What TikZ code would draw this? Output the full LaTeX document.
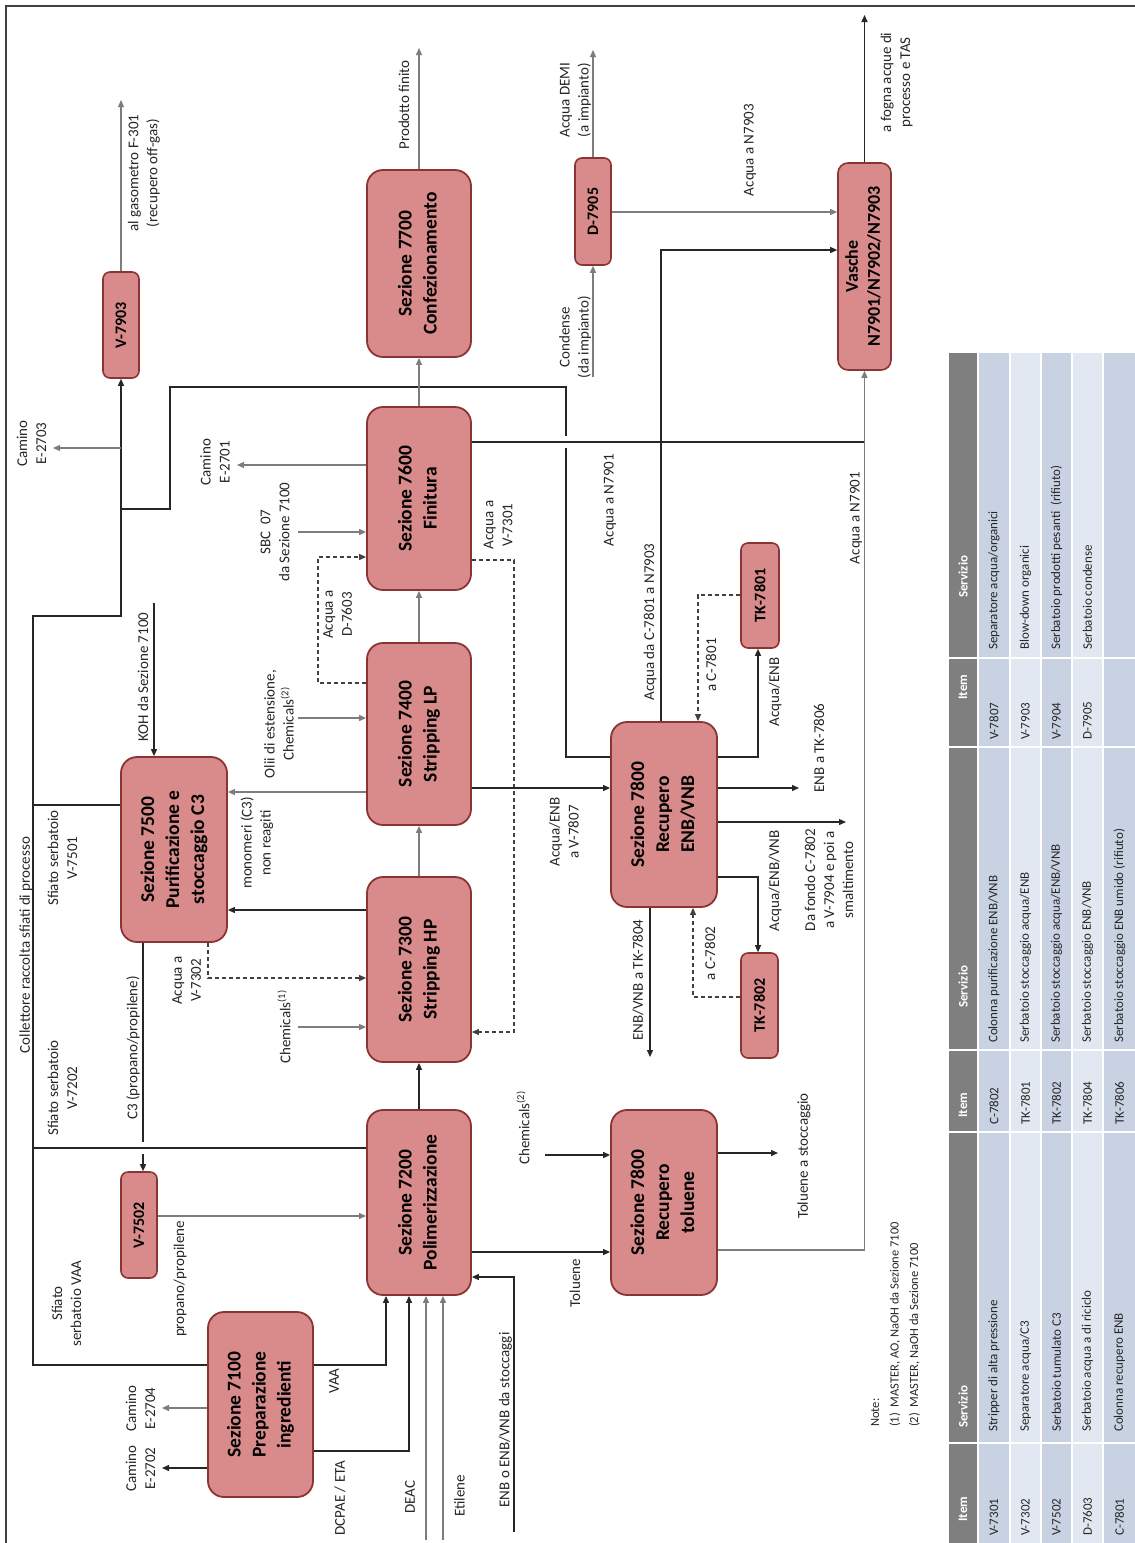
\documentclass[tikz,border=0pt]{standalone}
\usepackage{fontspec}
\setmainfont{Carlito}
\usetikzlibrary{arrows.meta}
\definecolor{boxfill}{RGB}{217,138,138}
\definecolor{boxline}{RGB}{140,52,52}
\definecolor{gline}{RGB}{125,125,125}
\definecolor{hdr}{RGB}{127,127,127}
\definecolor{rowa}{RGB}{200,210,226}
\definecolor{rowb}{RGB}{226,232,241}
\newcommand{\boxtxt}[1]{\rotatebox{90}{\bfseries\fontsize{19.5}{25}\selectfont\begin{tabular}{@{}c@{}}#1\end{tabular}}}
\newcommand{\tagtxt}[1]{\rotatebox{90}{\bfseries\fontsize{16}{19}\selectfont #1}}
\begin{document}
\begin{tikzpicture}[x=1pt,y=-1pt,
  pbox/.style={draw=boxline, fill=boxfill, line width=1.8pt, rounded corners=16pt, inner sep=0pt},
  sbox/.style={draw=boxline, fill=boxfill, line width=1.6pt, rounded corners=7pt, inner sep=0pt},
  blk/.style={line width=1.3pt, draw=black!85},
  gry/.style={line width=1.2pt, draw=gline},
  arr/.style={-{Triangle[length=7pt,width=6pt]}},
  dsh/.style={line width=1.1pt, draw=black!75, dash pattern=on 4pt off 3pt},
  lab/.style={rotate=90, align=center, inner sep=0pt, font=\fontsize{15}{19}\selectfont, text=black!85},
  tabt/.style={rotate=90, anchor=west, inner sep=0pt, font=\fontsize{13}{15}\selectfont, text=black!85},
  tabh/.style={rotate=90, anchor=west, inner sep=0pt, font=\bfseries\fontsize{13}{15}\selectfont, text=white}
]
\useasboundingbox (0,0) rectangle (1135,1543);
\fill[white] (0,0) rectangle (1135,1543);
% frame
\draw[line width=1.6pt, black!75] (6,1543) -- (6,6) -- (1135,6);

% ---------------- boxes
\node[sbox, minimum width=36pt, minimum height=106pt] (v7903) at (121,325) {\tagtxt{V-7903}};
\node[pbox, minimum width=104pt, minimum height=187pt] (s7700) at (419,263.5) {\boxtxt{Sezione 7700\\Confezionamento}};
\node[sbox, minimum width=36pt, minimum height=107pt] (d7905) at (593,211.5) {\tagtxt{D-7905}};
\node[sbox, rounded corners=10pt, minimum width=53pt, minimum height=207pt] (vasche) at (864.5,266.5)
  {\rotatebox{90}{\bfseries\fontsize{18}{22}\selectfont\begin{tabular}{@{}c@{}}Vasche\\N7901/N7902/N7903\end{tabular}}};
\node[pbox, minimum width=104pt, minimum height=183pt] (s7600) at (419,498.5) {\boxtxt{Sezione 7600\\Finitura}};
\node[pbox, minimum width=104pt, minimum height=182pt] (s7400) at (419,734) {\boxtxt{Sezione 7400\\Stripping LP}};
\node[pbox, minimum width=104pt, minimum height=185pt] (s7300) at (419,969.5) {\boxtxt{Sezione 7300\\Stripping HP}};
\node[pbox, minimum width=104pt, minimum height=185pt] (s7200) at (419,1202.5) {\boxtxt{Sezione 7200\\Polimerizzazione}};
\node[pbox, minimum width=106pt, minimum height=185pt] (s7500) at (174,849.5) {\boxtxt{Sezione 7500\\Purificazione e\\stoccaggio C3}};
\node[pbox, minimum width=106pt, minimum height=185pt] (s7800e) at (664,814.5) {\boxtxt{Sezione 7800\\Recupero\\ENB/VNB}};
\node[sbox, minimum width=38pt, minimum height=105pt] (tk7801) at (760,595.5) {\tagtxt{TK-7801}};
\node[sbox, minimum width=37pt, minimum height=105pt] (tk7802) at (759.5,1005.5) {\tagtxt{TK-7802}};
\node[pbox, minimum width=106pt, minimum height=185pt] (s7800t) at (664,1202.5) {\boxtxt{Sezione 7800\\Recupero\\toluene}};
\node[sbox, minimum width=36pt, minimum height=106pt] (v7502) at (139,1225) {\tagtxt{V-7502}};
\node[pbox, minimum width=105pt, minimum height=185pt] (s7100) at (260.5,1404.5) {\boxtxt{Sezione 7100\\Preparazione\\ingredienti}};

% ---------------- collector and crossings
\draw[blk,arr] (s7100.west |- 0,1365) -- (33,1365) -- (33,616) -- (121,616) -- (v7903.south);
\draw[gry,arr] (121,448) -- (53,448);
\draw[blk] (s7500.west |- 0,805) -- (33,805);
\draw[blk,arr] (s7500.south -| 143,0) -- (v7502.north -| 143,0);
\fill[white] (139,1142) rectangle (147,1154);
\draw[blk] (s7200.west |- 0,1148) -- (33,1148);
\draw[blk] (121,509) -- (170,509) -- (170,387) -- (566,387) -- (566,757) -- (s7800e.west |- 0,757);
\fill[white] (562,436) rectangle (570,448);
\draw[blk] (s7600.east |- 0,442) -- (864.5,442);
\draw[blk,arr] (s7800e.north -| 661,0) -- (661,250) -- (vasche.west |- 0,250);
\draw[gry,arr] (s7800t.east |- 0,1250) -- (864.5,1250) -- (vasche.south);

% ---------------- main chain
\draw[gry,arr] (s7600.north) -- (s7700.south);
\draw[gry,arr] (s7400.north) -- (s7600.south);
\draw[gry,arr] (s7300.north) -- (s7400.south);
\draw[blk,arr] (s7200.north) -- (s7300.south);

% ---------------- outputs at top
\draw[gry,arr] (v7903.north) -- (121,100);
\draw[gry,arr] (s7700.north) -- (419,48);
\draw[gry,arr] (d7905.north) -- (593,50);
\draw[gry,arr] (593,377) -- (d7905.south);
\draw[blk,arr] (vasche.north) -- (864.5,15);
\draw[gry,arr] (d7905.east |- 0,212) -- (vasche.west |- 0,212);

% ---------------- 7600 / 7400 / 7500 / 7300
\draw[gry,arr] (s7600.west |- 0,465) -- (237,465);
\draw[gry,arr] (298,532) -- (s7600.west |- 0,532);
\draw[dsh,arr] (s7400.west |- 0,683) -- (318,683) -- (318,557) -- (s7600.west |- 0,557);
\draw[gry,arr] (298,718) -- (s7400.west |- 0,718);
\draw[blk,arr] (154,603) -- (s7500.north -| 154,0);
\draw[gry,arr] (s7400.west |- 0,792) -- (s7500.east |- 0,792);
\draw[blk,arr] (s7300.west |- 0,910) -- (s7500.east |- 0,910);
\draw[dsh,arr] (s7500.south -| 208,0) -- (208,978) -- (s7300.west |- 0,978);
\draw[gry,arr] (298,1027) -- (s7300.west |- 0,1027);
\draw[dsh,arr] (s7600.east |- 0,560) -- (514,560) -- (514,1032) -- (s7300.east |- 0,1032);
\draw[blk,arr] (s7400.east |- 0,788) -- (s7800e.west |- 0,788);

% ---------------- 7200 / 7100
\draw[gry,arr] (v7502.east |- 0,1216) -- (s7200.west |- 0,1216);
\draw[blk,arr] (s7100.east |- 0,1365) -- (386,1365) -- (s7200.south -| 386,0);
\draw[blk,arr] (s7100.east |- 0,1451) -- (409,1451) -- (s7200.south -| 409,0);
\draw[gry,arr] (426,1540) -- (s7200.south -| 426,0);
\draw[gry,arr] (443,1540) -- (s7200.south -| 443,0);
\draw[blk,arr] (514,1532) -- (514,1277) -- (s7200.east |- 0,1277);
\draw[blk,arr] (s7100.west |- 0,1468) -- (162,1468);
\draw[gry,arr] (s7100.west |- 0,1408) -- (162,1408);
\draw[blk,arr] (s7200.east |- 0,1252) -- (s7800t.west |- 0,1252);
\draw[blk,arr] (545,1155) -- (s7800t.west |- 0,1155);
\draw[blk,arr] (s7800t.east |- 0,1153) -- (778,1153);

% ---------------- 7800 ENB/VNB
\draw[blk,arr] (s7800e.south -| 650,0) -- (650,1057);
\draw[dsh,arr] (tk7802.west |- 0,997) -- (693,997) -- (s7800e.south -| 693,0);
\draw[blk,arr] (s7800e.east |- 0,877) -- (758,877) -- (tk7802.north -| 758,0);
\draw[blk,arr] (s7800e.east |- 0,757) -- (758,757) -- (tk7801.south -| 758,0);
\draw[dsh,arr] (tk7801.west |- 0,595) -- (698,595) -- (s7800e.north -| 698,0);
\draw[blk,arr] (s7800e.east |- 0,788) -- (799,788);
\draw[blk,arr] (s7800e.east |- 0,822) -- (846,822);

% ---------------- labels
\node[lab] (lgas) at (144,173) {al gasometro F-301\\(recupero off-gas)};
\node[lab] (lcam3) at (31.5,443.5) {Camino\\E-2703};
\node[lab] (lprod) at (404,105) {Prodotto finito};
\node[lab] (ldemi) at (575.5,100) {Acqua DEMI\\(a impianto)};
\node[lab] (lcond) at (575,337) {Condense\\(da impianto)};
\node[lab] (l7903) at (750,150) {Acqua a N7903};
\node[lab] (lfogna) at (896.5,82.5) {a fogna acque di\\processo e TAS};
\node[lab] (lcam1) at (215,462) {Camino\\E-2701};
\node[lab] (lsbc) at (275,532) {SBC~~07\\da Sezione 7100};
\node[lab] (ld7603) at (337.5,614.5) {Acqua a\\D-7603};
\node[lab] (lkoh) at (143,677) {KOH da Sezione 7100};
\node[lab] (lolii) at (279,724) {Olii di estensione,\\Chemicals\textsuperscript{(2)}};
\node[lab] (lv7301) at (498,525) {Acqua a\\V-7301};
\node[lab] (ln7901a) at (610,500) {Acqua a N7901};
\node[lab] (lc7801) at (650,622) {Acqua da C-7801 a N7903};
\node[lab] (lac7801) at (711,665) {a C-7801};
\node[lab] (lae) at (775,692) {Acqua/ENB};
\node[lab] (ln7901b) at (856,518) {Acqua a N7901};
\node[lab] (ltk7806) at (819,748) {ENB a TK-7806};
\node[lab] (lfondo) at (829,880) {Da fondo C-7802\\a V-7904 e poi a\\smaltimento};
\node[lab] (laev) at (775,881) {Acqua/ENB/VNB};
\node[lab] (lac7802) at (710,953.5) {a C-7802};
\node[lab] (ltk7804) at (638,980) {ENB/VNB a TK-7804};
\node[lab] (lv7807) at (564,832) {Acqua/ENB\\a V-7807};
\node[lab] (lmono) at (257,843) {monomeri (C3)\\non reagiti};
\node[lab] (lv7302) at (186.5,980.5) {Acqua a\\V-7302};
\node[lab] (lchem1) at (284,1027) {Chemicals\textsuperscript{(1)}};
\node[lab] (lcoll) at (26,945) {Collettore raccolta sfiati di processo};
\node[lab] (lv7501) at (62.5,858) {Sfiato serbatoio\\V-7501};
\node[lab] (lv7202) at (62.5,1088) {Sfiato serbatoio\\V-7202};
\node[lab] (lc3) at (133,1048) {C3 (propano/propilene)};
\node[lab] (lvaa) at (66.5,1303.5) {Sfiato\\serbatoio VAA};
\node[lab] (lprop) at (180,1279) {propano/propilene};
\node[lab] (lcam2) at (140.5,1468.5) {Camino\\E-2702};
\node[lab] (lcam4) at (140.5,1408.5) {Camino\\E-2704};
\node[lab] (lvaa2) at (334,1381) {VAA};
\node[lab] (ldcpae) at (340,1498) {DCPAE / ETA};
\node[lab] (ldeac) at (410,1497) {DEAC};
\node[lab] (letil) at (459.5,1496) {Etilene};
\node[lab] (lenb) at (505.5,1420) {ENB o ENB/VNB da stoccaggi};
\node[lab] (ltol) at (575,1283) {Toluene};
\node[lab] (lchem2) at (523,1128) {Chemicals\textsuperscript{(2)}};
\node[lab] (ltols) at (804,1156) {Toluene a stoccaggio};

% ---------------- notes
\node[lab, align=left, anchor=north west, font=\fontsize{12.5}{19.5}\selectfont] (notes) at (871,1427)
  {Note:\\(1)~~MASTER, AO, NaOH da Sezione 7100\\(2)~~MASTER, NaOH da Sezione 7100};

% ---------------- table
\fill[hdr] (949,353) rectangle (977,1543);
\fill[rowa] (979,353) rectangle (1009,1543);
\fill[rowb] (1011,353) rectangle (1040,1543);
\fill[rowa] (1042,353) rectangle (1071,1543);
\fill[rowb] (1073,353) rectangle (1102,1543);
\fill[rowa] (1104,353) rectangle (1135,1543);
\foreach \yy in {1443,1132,1050,747,658} \draw[white, line width=1.5pt] (949,\yy) -- (1135,\yy);

\node[tabh] (h1) at (963,1522) {Item};
\node[tabh] (h2) at (963,1428) {Servizio};
\node[tabh] (h3) at (963,1118) {Item};
\node[tabh] (h4) at (963,1008) {Servizio};
\node[tabh] (h5) at (963,700) {Item};
\node[tabh] (h6) at (963,598) {Servizio};

\node[tabt] (a1) at (994,1536) {V-7301};
\node[tabt] (b1) at (994,1432) {Stripper di alta pressione};
\node[tabt] (c1) at (994,1125) {C-7802};
\node[tabt] (d1) at (994,1043) {Colonna purificazione ENB/VNB};
\node[tabt] (e1) at (994,740) {V-7807};
\node[tabt] (f1) at (994,650) {Separatore acqua/organici};

\node[tabt] (a2) at (1025.5,1536) {V-7302};
\node[tabt] (b2) at (1025.5,1432) {Separatore acqua/C3};
\node[tabt] (c2) at (1025.5,1125) {TK-7801};
\node[tabt] (d2) at (1025.5,1043) {Serbatoio stoccaggio acqua/ENB};
\node[tabt] (e2) at (1025.5,740) {V-7903};
\node[tabt] (f2) at (1025.5,650) {Blow-down organici};

\node[tabt] (a3) at (1056.5,1536) {V-7502};
\node[tabt] (b3) at (1056.5,1432) {Serbatoio tumulato C3};
\node[tabt] (c3) at (1056.5,1125) {TK-7802};
\node[tabt] (d3) at (1056.5,1043) {Serbatoio stoccaggio acqua/ENB/VNB};
\node[tabt] (e3) at (1056.5,740) {V-7904};
\node[tabt] (f3) at (1056.5,650) {Serbatoio prodotti pesanti~ (rifiuto)};

\node[tabt] (a4) at (1087.5,1536) {D-7603};
\node[tabt] (b4) at (1087.5,1432) {Serbatoio acqua a di riciclo};
\node[tabt] (c4) at (1087.5,1125) {TK-7804};
\node[tabt] (d4) at (1087.5,1043) {Serbatoio stoccaggio ENB/VNB};
\node[tabt] (e4) at (1087.5,740) {D-7905};
\node[tabt] (f4) at (1087.5,650) {Serbatoio condense};

\node[tabt] (a5) at (1119.5,1536) {C-7801};
\node[tabt] (b5) at (1119.5,1432) {Colonna recupero ENB};
\node[tabt] (c5) at (1119.5,1125) {TK-7806};
\node[tabt] (d5) at (1119.5,1043) {Serbatoio stoccaggio ENB umido (rifiuto)};
\end{tikzpicture}
\end{document}
